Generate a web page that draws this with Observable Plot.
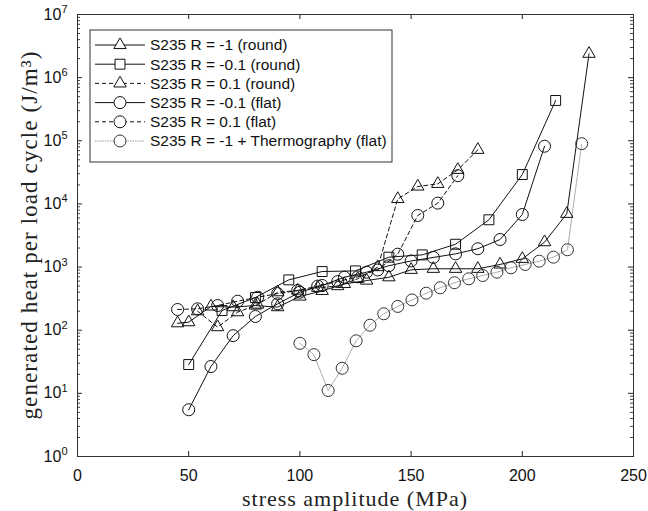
<!DOCTYPE html>
<html><head><meta charset="utf-8">
<script src="https://cdn.jsdelivr.net/npm/d3@7"></script>
<script src="https://cdn.jsdelivr.net/npm/@observablehq/plot@0.6"></script>
<style>body{margin:0;background:#fff} #chart{width:648px;height:511px}</style>
</head><body><div id="chart"></div>
<script>
// ---- data ----
const seriesLabels = ["S235 R = -1 (round)", "S235 R = -0.1 (round)", "S235 R = 0.1 (round)",
  "S235 R = -0.1 (flat)", "S235 R = 0.1 (flat)", "S235 R = -1 + Thermography (flat)"];

const roundRm1Stress = [45,50,60,70,80,90,100,110,120,130,140,150,160,170,180,190,200,210,220,230];
const roundRm1Heat   = [129,134,238,232,246,232,342,420,540,612,690,905,940,940,940,1100,1350,2480,6980,2390000];

const roundRm01Stress = [50,65,80,95,110,125,140,155,170,185,200,215];
const roundRm01Heat   = [28.6,205,330,627,850,870,1435,1560,2300,5610,29200,435000];

const roundR01Stress = [54,63,72,81,90,99,108,117,126,135,144,153,162,171,180];
const roundR01Heat   = [200,112,193,255,400,425,470,500,652,1000,12000,18900,20800,34700,72000];

const flatRm01Stress = [50,60,70,80,90,100,110,120,130,140,150,160,170,180,190,200,210];
const flatRm01Heat   = [5.5,26.6,82,165,262,400,511,690,830,1050,1250,1420,1620,1950,2730,6800,82000];

const flatR01Stress = [45,54,63,72,81,90,99,108,117,126,135,144,153,162,171];
const flatR01Heat   = [213,218,246,288,333,380,425,500,590,700,900,1600,6560,10300,28000];

const thermoStress = [100,106.3,112.7,119,125.3,131.5,137.7,144,150.4,156.8,163.1,169.5,175.9,182.2,188.6,194.9,201.3,207.6,214,220.3,226.7];
const thermoHeat   = [62,41,11.1,25,68,120,182,238,302,386,470,565,652,735,830,973,1100,1240,1435,1880,90000];

const xTickValues = [0,50,100,150,200,250];
const yTickExponents = [0,1,2,3,4,5,6,7];

const xLabel = "stress amplitude (MPa)";
const yLabel = "generated heat per load cycle (J/m\u00B3)";

// ---- styles ----
const styles = [
  {symbol:"triangle", r:4.6, dash:null, line:"#111", mark:"#111"},
  {symbol:"square",   r:5.6, dash:null, line:"#111", mark:"#111"},
  {symbol:"triangle", r:4.6, dash:"4,3", line:"#111", mark:"#111"},
  {symbol:"circle",   r:6,   dash:null, line:"#111", mark:"#111"},
  {symbol:"circle",   r:6,   dash:"4,3", line:"#111", mark:"#111"},
  {symbol:"circle",   r:6,   dash:"1.5,1", line:"#9a9a9a", mark:"#333"}
];
const stressArrays = [roundRm1Stress, roundRm01Stress, roundR01Stress, flatRm01Stress, flatR01Stress, thermoStress];
const heatArrays   = [roundRm1Heat, roundRm01Heat, roundR01Heat, flatRm01Heat, flatR01Heat, thermoHeat];

const series = seriesLabels.map((label, i) => ({
  label, ...styles[i],
  rows: stressArrays[i].map((x, j) => ({x, y: heatArrays[i][j], s: label}))
}));

const W = 648, H = 511, mL = 77, mR = 15, mT = 14, mB = 55;
const fw = W - mL - mR, fh = H - mT - mB;
const yMajor = yTickExponents.map(e => 10 ** e);
const yMinor = yTickExponents.slice(0, -1).flatMap(e => d3.range(2, 10).map(m => m * 10 ** e));

const marks = [
  Plot.axisX(xTickValues, {tickSize: 0, tickPadding: 13, label: null}),
  Plot.axisY(yMajor, {tickSize: 0, tickPadding: 10, label: null, tickFormat: d => String(Math.round(Math.log10(d)))}),
  Plot.tickX(xTickValues, {x: d => d, insetTop: fh - 5, stroke: "#222"}),
  Plot.tickX(xTickValues, {x: d => d, insetBottom: fh - 5, stroke: "#222"}),
  Plot.tickY(yMajor, {y: d => d, insetRight: fw - 5, stroke: "#222"}),
  Plot.tickY(yMajor, {y: d => d, insetLeft: fw - 5, stroke: "#222"}),
  Plot.tickY(yMinor, {y: d => d, insetRight: fw - 3, stroke: "#444"}),
  Plot.tickY(yMinor, {y: d => d, insetLeft: fw - 3, stroke: "#444"})
];
for (const s of series) {
  marks.push(Plot.line(s.rows, {x: "x", y: "y", stroke: s.line, strokeWidth: s.dash === "1.5,1" ? 0.9 : 1, strokeDasharray: s.dash || undefined}));
}
for (const s of series) {
  marks.push(Plot.dot(s.rows, {x: "x", y: "y", symbol: s.symbol, r: s.r, stroke: s.mark, fill: "none", strokeWidth: 1}));
}
marks.push(Plot.frame({stroke: "#333", strokeWidth: 1}));

const chart = Plot.plot({
  width: W, height: H, marginLeft: mL, marginRight: mR, marginTop: mT, marginBottom: mB,
  style: {fontFamily: "'Liberation Sans', Arial, sans-serif", fontSize: "16px", color: "#111", background: "#fff"},
  x: {domain: [0, 250]},
  y: {type: "log", domain: [1, 1e7]},
  marks
});
document.getElementById("chart").appendChild(chart);

const svg = d3.select(chart);
// superscript exponents on y tick labels
svg.selectAll('g[aria-label="y-axis tick label"] text').each(function () {
  const e = this.textContent;
  const t = d3.select(this);
  t.text("10");
  t.append("tspan").attr("dy", "-0.6em").attr("font-size", "11px").text(e);
});

// axis titles (serif), slightly widened with letter spacing toward the reference widths
function fitText(sel, target, maxLs) {
  const len = sel.node().getComputedTextLength();
  const n = sel.text().length;
  const ls = Math.max(0, Math.min(maxLs, (target - len) / (n - 1)));
  sel.attr("letter-spacing", ls.toFixed(2));
}
const serif = "'Liberation Serif', 'DejaVu Serif', serif";
const xt = svg.append("text").attr("x", mL + fw / 2).attr("y", 506).attr("text-anchor", "middle")
  .attr("font-family", serif).attr("font-size", 22).attr("fill", "#222").text(xLabel);
fitText(xt, 237, 1.0);
const yt = svg.append("text").attr("transform", `translate(37,${mT + fh / 2}) rotate(-90)`).attr("text-anchor", "middle")
  .attr("font-family", serif).attr("font-size", 23).attr("fill", "#222").text(yLabel);
fitText(yt, 415, 1.1);

// legend box
const lg = svg.append("g").attr("transform", "translate(90,30)");
lg.append("rect").attr("width", 302).attr("height", 132).attr("fill", "#fff").attr("stroke", "#333").attr("stroke-width", 1);
const symMap = {circle: d3.symbolCircle, square: d3.symbolSquare, triangle: d3.symbolTriangle};
series.forEach((s, i) => {
  const cy = 15 + i * 19.2;
  lg.append("line").attr("x1", 5).attr("x2", 55).attr("y1", cy).attr("y2", cy)
    .attr("stroke", s.line).attr("stroke-width", 1).attr("stroke-dasharray", s.dash);
  lg.append("path").attr("transform", `translate(30,${cy})`)
    .attr("d", d3.symbol(symMap[s.symbol], Math.PI * s.r * s.r)())
    .attr("fill", "#fff").attr("stroke", s.mark).attr("stroke-width", 1);
  lg.append("text").attr("x", 60).attr("y", cy).attr("dy", "0.35em").attr("text-anchor", "start")
    .attr("font-size", 15.5).attr("fill", "#111").text(s.label);
});
</script>
</body></html>
